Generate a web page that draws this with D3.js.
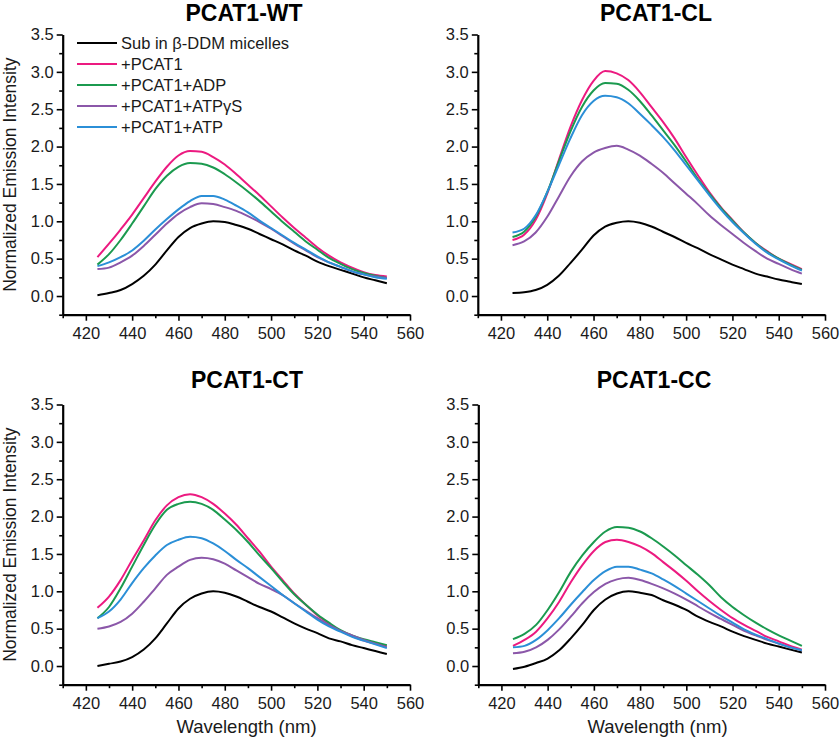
<!DOCTYPE html>
<html>
<head>
<meta charset="utf-8">
<script src="https://cdn.jsdelivr.net/npm/d3@7"></script>
<style>
  html, body { margin: 0; padding: 0; background: #fff; }
  svg { display: block; font-family: "Liberation Sans", Arial, Helvetica, sans-serif; }
</style>
</head>
<body>
<svg id="chart" width="840" height="737"></svg>
<script>
// ---------- DATA ----------
const wavelengths = [425,430,435,440,445,450,455,460,465,470,475,480,485,490,495,500,505,510,515,520,525,530,535,540,545,550];

const seriesNames = ["Sub in β-DDM micelles", "+PCAT1", "+PCAT1+ADP", "+PCAT1+ATPγS", "+PCAT1+ATP"];
const seriesColors = ["#000000", "#ec1a80", "#1b9a4f", "#8b57a9", "#2b8fd7"];
const panelTitles = ["PCAT1-WT", "PCAT1-CL", "PCAT1-CT", "PCAT1-CC"];

const xTicks = [420,440,460,480,500,520,540,560];
const yTicks = [0.0,0.5,1.0,1.5,2.0,2.5,3.0,3.5];

// PCAT1-WT
const wtSub    = [0.01,0.04,0.08,0.16,0.27,0.42,0.61,0.79,0.91,0.97,1.00,0.99,0.95,0.90,0.83,0.76,0.69,0.61,0.54,0.46,0.40,0.35,0.30,0.25,0.21,0.17];
const wtPCAT1  = [0.52,0.70,0.89,1.09,1.31,1.53,1.73,1.88,1.94,1.93,1.86,1.76,1.63,1.49,1.35,1.20,1.05,0.91,0.78,0.65,0.54,0.45,0.38,0.32,0.28,0.26];
const wtADP    = [0.42,0.56,0.75,0.97,1.20,1.43,1.61,1.73,1.78,1.77,1.72,1.63,1.52,1.40,1.27,1.13,0.99,0.86,0.73,0.62,0.51,0.43,0.36,0.31,0.27,0.24];
const wtATPgS  = [0.36,0.38,0.45,0.54,0.67,0.82,0.97,1.10,1.19,1.24,1.23,1.19,1.14,1.07,0.99,0.90,0.80,0.70,0.61,0.52,0.45,0.39,0.33,0.29,0.26,0.24];
const wtATP    = [0.40,0.45,0.52,0.61,0.74,0.89,1.03,1.16,1.27,1.34,1.34,1.29,1.21,1.12,1.01,0.91,0.81,0.71,0.62,0.53,0.45,0.39,0.33,0.29,0.25,0.23];

// PCAT1-CL
const clSub    = [0.04,0.05,0.08,0.15,0.27,0.44,0.62,0.81,0.93,0.98,1.00,0.98,0.93,0.86,0.79,0.71,0.64,0.56,0.49,0.42,0.36,0.30,0.26,0.22,0.19,0.16];
const clPCAT1  = [0.75,0.82,1.02,1.37,1.82,2.26,2.62,2.88,3.01,2.98,2.89,2.73,2.53,2.33,2.11,1.86,1.62,1.39,1.19,1.02,0.85,0.71,0.60,0.50,0.43,0.36];
const clADP    = [0.79,0.86,1.06,1.39,1.80,2.20,2.53,2.75,2.85,2.84,2.76,2.61,2.42,2.22,2.02,1.80,1.57,1.37,1.18,1.01,0.85,0.71,0.59,0.50,0.42,0.35];
const clATPgS  = [0.68,0.73,0.85,1.06,1.33,1.60,1.80,1.92,1.98,2.01,1.96,1.88,1.77,1.65,1.51,1.37,1.23,1.08,0.95,0.83,0.71,0.60,0.50,0.43,0.36,0.30];
const clATP    = [0.85,0.90,1.08,1.39,1.75,2.11,2.42,2.61,2.68,2.66,2.58,2.44,2.29,2.13,1.95,1.75,1.55,1.35,1.16,0.99,0.84,0.70,0.58,0.49,0.41,0.34];

// PCAT1-CT
const ctSub    = [0.00,0.03,0.06,0.12,0.22,0.37,0.57,0.77,0.90,0.97,1.00,0.98,0.93,0.86,0.79,0.73,0.65,0.57,0.50,0.44,0.37,0.33,0.28,0.24,0.20,0.16];
const ctPCAT1  = [0.78,0.93,1.15,1.42,1.68,1.95,2.15,2.26,2.30,2.26,2.17,2.04,1.89,1.71,1.53,1.33,1.15,0.97,0.82,0.68,0.57,0.47,0.40,0.34,0.30,0.26];
const ctADP    = [0.64,0.79,1.04,1.33,1.62,1.89,2.09,2.17,2.20,2.17,2.09,1.96,1.82,1.66,1.48,1.31,1.13,0.96,0.82,0.69,0.58,0.48,0.41,0.36,0.32,0.28];
const ctATPgS  = [0.50,0.53,0.59,0.70,0.86,1.04,1.22,1.33,1.42,1.45,1.43,1.37,1.28,1.19,1.10,1.03,0.95,0.84,0.74,0.64,0.55,0.47,0.41,0.35,0.30,0.25];
const ctATP    = [0.64,0.73,0.89,1.11,1.31,1.48,1.62,1.69,1.73,1.71,1.64,1.54,1.42,1.31,1.19,1.07,0.95,0.84,0.73,0.62,0.53,0.46,0.39,0.34,0.29,0.24];

// PCAT1-CC
const ccSub    = [-0.04,-0.01,0.04,0.10,0.21,0.37,0.55,0.75,0.89,0.97,1.00,0.98,0.95,0.88,0.82,0.75,0.66,0.59,0.53,0.46,0.40,0.35,0.30,0.26,0.22,0.18];
const ccPCAT1  = [0.27,0.35,0.46,0.64,0.86,1.12,1.35,1.54,1.66,1.69,1.66,1.60,1.51,1.39,1.27,1.14,1.00,0.87,0.75,0.64,0.55,0.47,0.39,0.33,0.27,0.22];
const ccADP    = [0.36,0.43,0.55,0.75,0.99,1.26,1.48,1.66,1.80,1.86,1.85,1.80,1.71,1.60,1.48,1.35,1.22,1.08,0.92,0.79,0.68,0.58,0.49,0.41,0.34,0.27];
const ccATPgS  = [0.17,0.19,0.25,0.35,0.49,0.66,0.84,0.99,1.10,1.16,1.18,1.15,1.10,1.04,0.97,0.89,0.80,0.71,0.63,0.55,0.47,0.41,0.35,0.30,0.25,0.21];
const ccATP    = [0.25,0.27,0.35,0.48,0.64,0.82,0.99,1.15,1.27,1.33,1.33,1.29,1.24,1.16,1.07,0.97,0.87,0.77,0.67,0.58,0.49,0.42,0.36,0.30,0.25,0.21];

const panelSeries = [
  [wtSub, wtPCAT1, wtADP, wtATPgS, wtATP],
  [clSub, clPCAT1, clADP, clATPgS, clATP],
  [ctSub, ctPCAT1, ctADP, ctATPgS, ctATP],
  [ccSub, ccPCAT1, ccADP, ccATPgS, ccATP]
];

// ---------- LAYOUT ----------
const panels = [
  {x0: 62.7,  x1: 410, yTop: 34.5,  yBot: 314.7, titleX: 244, titleY: 21,  yLabel: true,  xLabelX: null, legend: true},
  {x0: 477.8, x1: 825, yTop: 34.5,  yBot: 314.7, titleX: 656, titleY: 21,  yLabel: false, xLabelX: null, legend: false},
  {x0: 62.7,  x1: 410, yTop: 404.5, yBot: 684.7, titleX: 247, titleY: 388, yLabel: true,  xLabelX: 246.5, legend: false},
  {x0: 478.3, x1: 825, yTop: 404.5, yBot: 684.7, titleX: 654, titleY: 388, yLabel: false, xLabelX: 657.5, legend: false}
];

const svg = d3.select("#chart");
svg.append("rect").attr("width", 840).attr("height", 737).attr("fill", "#fff");

panels.forEach((p, pi) => {
  const x = d3.scaleLinear().domain([410, 560]).range([p.x0, p.x1]);
  const y = d3.scaleLinear().domain([-0.25, 3.5]).range([p.yBot, p.yTop]);
  const g = svg.append("g");

  // minor ticks
  const xMinor = d3.range(410, 560, 20);
  const yMinor = d3.range(-0.25, 3.5, 0.5);
  g.append("g").attr("transform", `translate(0,${p.yBot})`)
    .call(d3.axisBottom(x).tickValues(xMinor).tickSize(3.5).tickSizeOuter(0).tickFormat(""))
    .call(a => a.select(".domain").remove())
    .call(a => a.selectAll("line").attr("stroke-width", 1.6));
  g.append("g").attr("transform", `translate(${p.x0},0)`)
    .call(d3.axisLeft(y).tickValues(yMinor).tickSize(3.5).tickSizeOuter(0).tickFormat(""))
    .call(a => a.select(".domain").remove())
    .call(a => a.selectAll("line").attr("stroke-width", 1.6));

  // major x axis
  const xa = g.append("g").attr("transform", `translate(0,${p.yBot})`)
    .call(d3.axisBottom(x).tickValues(xTicks).tickSize(6).tickSizeOuter(0).tickPadding(7).tickFormat(d3.format("d")));
  xa.select(".domain").attr("stroke-width", 2.2);
  xa.selectAll(".tick line").attr("stroke-width", 1.6);
  xa.selectAll("text").attr("font-size", "16.5px").attr("fill", "#1a1a1a")
    .attr("font-family", "'Liberation Sans', Arial, sans-serif");

  // major y axis
  const ya = g.append("g").attr("transform", `translate(${p.x0},0)`)
    .call(d3.axisLeft(y).tickValues(yTicks).tickSize(6).tickSizeOuter(0).tickPadding(3).tickFormat(d3.format(".1f")));
  ya.select(".domain").attr("stroke-width", 2.2);
  ya.selectAll(".tick line").attr("stroke-width", 1.6);
  ya.selectAll("text").attr("font-size", "16.5px").attr("fill", "#1a1a1a")
    .attr("font-family", "'Liberation Sans', Arial, sans-serif");

  // curves
  const line = d3.line()
    .x((d, i) => x(wavelengths[i]))
    .y(d => y(d))
    .curve(d3.curveMonotoneX);
  panelSeries[pi].forEach((vals, si) => {
    g.append("path")
      .datum(vals)
      .attr("fill", "none")
      .attr("stroke", seriesColors[si])
      .attr("stroke-width", 2)
      .attr("stroke-linejoin", "round")
      .attr("d", line);
  });

  // title
  g.append("text")
    .attr("x", p.titleX).attr("y", p.titleY)
    .attr("text-anchor", "middle")
    .attr("font-size", "23px").attr("font-weight", "bold")
    .text(panelTitles[pi]);

  if (p.yLabel) {
    g.append("text")
      .attr("transform", `translate(15.5,${(p.yTop + p.yBot) / 2}) rotate(-90)`)
      .attr("text-anchor", "middle")
      .attr("font-size", "17.5px").attr("fill", "#1a1a1a")
      .text("Normalized Emission Intensity");
  }
  if (p.xLabelX !== null) {
    g.append("text")
      .attr("x", p.xLabelX).attr("y", 733)
      .attr("text-anchor", "middle")
      .attr("font-size", "18.5px").attr("fill", "#1a1a1a")
      .text("Wavelength (nm)");
  }
  if (p.legend) {
    const lg = g.append("g");
    seriesNames.forEach((name, si) => {
      const cy = 43 + si * 21;
      lg.append("line")
        .attr("x1", 77).attr("x2", 117).attr("y1", cy).attr("y2", cy)
        .attr("stroke", seriesColors[si]).attr("stroke-width", 2);
      lg.append("text")
        .attr("x", 121).attr("y", cy + 6)
        .attr("font-size", "16.5px").attr("fill", "#1a1a1a")
        .text(name);
    });
  }
});
</script>
</body>
</html>
